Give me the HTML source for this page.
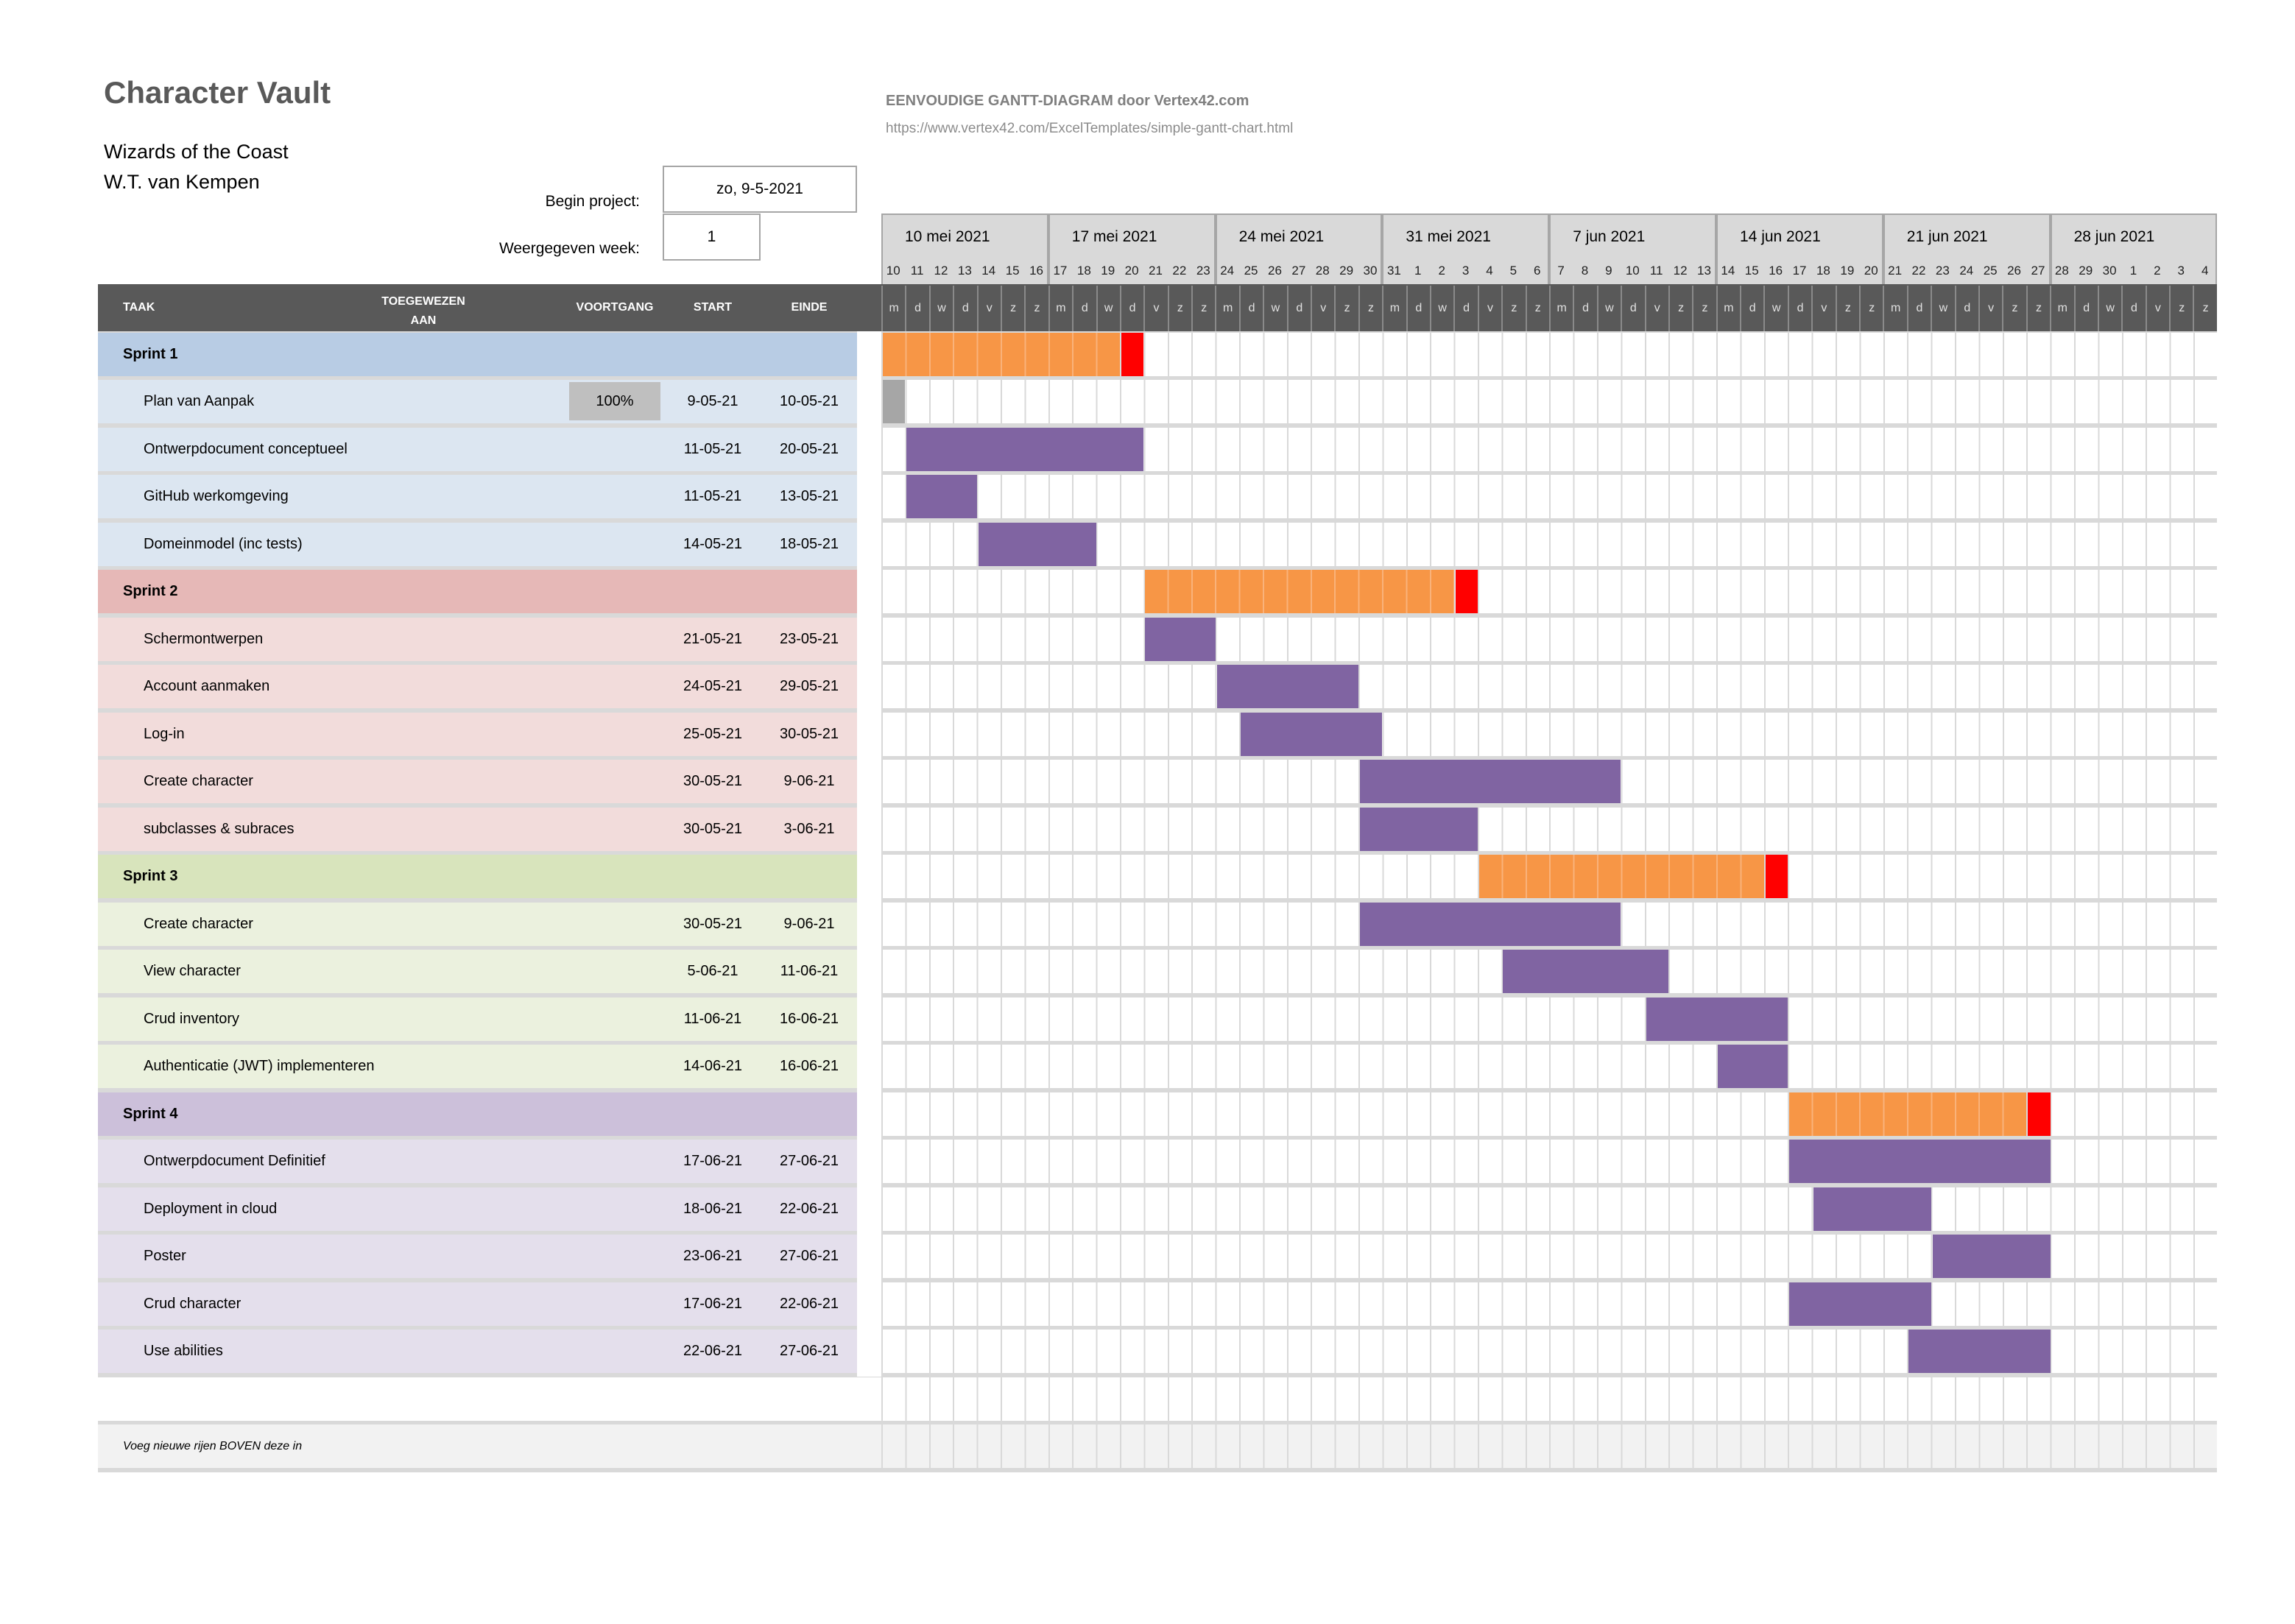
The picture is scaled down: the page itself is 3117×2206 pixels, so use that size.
<!DOCTYPE html>
<html><head><meta charset="utf-8"><style>
*{margin:0;padding:0;box-sizing:border-box}
body{width:3117px;height:2206px;background:#fff;position:relative;overflow:hidden;font-family:"Liberation Sans",sans-serif;color:#000}
.a{position:absolute}
.t{position:absolute;white-space:nowrap}
.row{position:absolute;left:133px;width:1031px;height:59px;top:calc(451.5px + var(--r)*64.5px)}
.row span{position:absolute;top:0;line-height:59px;font-size:20px;white-space:nowrap}
.cg{position:absolute;left:1197px;width:1814px;height:59px;top:calc(451.5px + var(--r)*64.5px);background:repeating-linear-gradient(to right,#d9d9d9 0 2px,#fff 2px 32.4px)}
.bar{position:absolute;height:59px;top:calc(451.5px + var(--r)*64.5px);left:calc(1199px + var(--s)*32.4px);width:calc(var(--n)*32.4px - 2px);background:#8064a2}
.or{background:repeating-linear-gradient(to right,#f79646 0 30.4px,#f9b27a 30.4px 32.4px)}
.red{background:#ff0000}
.gr{background:#a6a6a6}
.mon{position:absolute;top:290px;height:98px;width:226.8px;background:#d9d9d9;border:2px solid #a6a6a6;border-bottom:none;font-size:21px}
.mon b{font-weight:normal;position:absolute;left:30px;top:18px}
.days{position:absolute;left:1197px;top:358px;width:1814px;display:flex;font-size:17px;color:#222}
.days span{width:32.4px;text-align:center}
.ltr{position:absolute;left:1197px;top:388px;width:1814px;height:62px;display:flex;font-size:16px;color:#e0e0e0}
.ltr span{width:32.4px;text-align:center;line-height:62px;border-left:2px solid #8a8a8a}
.h{position:absolute;color:#fff;font-weight:bold;font-size:16px;text-align:center;white-space:nowrap}
</style></head><body>

<div class="t" style="left:141px;top:102px;font-size:42px;font-weight:bold;color:#595959">Character Vault</div>
<div class="t" style="left:141px;top:191px;font-size:27px">Wizards of the Coast</div>
<div class="t" style="left:141px;top:232px;font-size:27px">W.T. van Kempen</div>
<div class="t" style="left:1203px;top:126px;font-size:20px;font-weight:bold;color:#7f7f7f">EENVOUDIGE GANTT-DIAGRAM door Vertex42.com</div>
<div class="t" style="left:1203px;top:164px;font-size:19px;color:#8c8c8c">https://www.vertex42.com/ExcelTemplates/simple-gantt-chart.html</div>
<div class="t" style="right:2248px;top:262px;font-size:21px">Begin project:</div>
<div class="t" style="right:2248px;top:326px;font-size:21px">Weergegeven week:</div>
<div class="a" style="left:900px;top:225px;width:264px;height:64px;border:2px solid #a6a6a6;font-size:21px;text-align:center;line-height:60px">zo, 9-5-2021</div>
<div class="a" style="left:900px;top:290px;width:133px;height:64px;border:2px solid #a6a6a6;font-size:21px;text-align:center;line-height:60px">1</div>

<div class="mon" style="left:1197px"><b>10 mei 2021</b></div>
<div class="mon" style="left:1423.8px"><b>17 mei 2021</b></div>
<div class="mon" style="left:1650.6px"><b>24 mei 2021</b></div>
<div class="mon" style="left:1877.4px"><b>31 mei 2021</b></div>
<div class="mon" style="left:2104.2px"><b>7 jun 2021</b></div>
<div class="mon" style="left:2331px"><b>14 jun 2021</b></div>
<div class="mon" style="left:2557.8px"><b>21 jun 2021</b></div>
<div class="mon" style="left:2784.6px"><b>28 jun 2021</b></div>
<div class="days"><span>10</span><span>11</span><span>12</span><span>13</span><span>14</span><span>15</span><span>16</span><span>17</span><span>18</span><span>19</span><span>20</span><span>21</span><span>22</span><span>23</span><span>24</span><span>25</span><span>26</span><span>27</span><span>28</span><span>29</span><span>30</span><span>31</span><span>1</span><span>2</span><span>3</span><span>4</span><span>5</span><span>6</span><span>7</span><span>8</span><span>9</span><span>10</span><span>11</span><span>12</span><span>13</span><span>14</span><span>15</span><span>16</span><span>17</span><span>18</span><span>19</span><span>20</span><span>21</span><span>22</span><span>23</span><span>24</span><span>25</span><span>26</span><span>27</span><span>28</span><span>29</span><span>30</span><span>1</span><span>2</span><span>3</span><span>4</span></div>

<div class="a" style="left:133px;top:386px;width:2878px;height:64px;background:#595959"></div>
<div class="ltr"><span>m</span><span>d</span><span>w</span><span>d</span><span>v</span><span>z</span><span>z</span><span>m</span><span>d</span><span>w</span><span>d</span><span>v</span><span>z</span><span>z</span><span>m</span><span>d</span><span>w</span><span>d</span><span>v</span><span>z</span><span>z</span><span>m</span><span>d</span><span>w</span><span>d</span><span>v</span><span>z</span><span>z</span><span>m</span><span>d</span><span>w</span><span>d</span><span>v</span><span>z</span><span>z</span><span>m</span><span>d</span><span>w</span><span>d</span><span>v</span><span>z</span><span>z</span><span>m</span><span>d</span><span>w</span><span>d</span><span>v</span><span>z</span><span>z</span><span>m</span><span>d</span><span>w</span><span>d</span><span>v</span><span>z</span><span>z</span></div>
<div class="h" style="left:167px;top:409px">TAAK</div>
<div class="h" style="left:475px;top:397px;width:200px;line-height:26px">TOEGEWEZEN<br>AAN</div>
<div class="h" style="left:735px;top:409px;width:200px">VOORTGANG</div>
<div class="h" style="left:918px;top:409px;width:100px">START</div>
<div class="h" style="left:1049px;top:409px;width:100px">EINDE</div>

<div class="a" style="left:133px;top:450px;width:2878px;height:1550px;background:#d9d9d9"></div>
<div class="a" style="left:1164px;top:450px;width:33px;height:1420px;background:#fff"></div>

<!-- chart rows -->
<div class="cg" style="--r:0"></div><div class="cg" style="--r:1"></div><div class="cg" style="--r:2"></div><div class="cg" style="--r:3"></div><div class="cg" style="--r:4"></div><div class="cg" style="--r:5"></div><div class="cg" style="--r:6"></div><div class="cg" style="--r:7"></div><div class="cg" style="--r:8"></div><div class="cg" style="--r:9"></div><div class="cg" style="--r:10"></div><div class="cg" style="--r:11"></div><div class="cg" style="--r:12"></div><div class="cg" style="--r:13"></div><div class="cg" style="--r:14"></div><div class="cg" style="--r:15"></div><div class="cg" style="--r:16"></div><div class="cg" style="--r:17"></div><div class="cg" style="--r:18"></div><div class="cg" style="--r:19"></div><div class="cg" style="--r:20"></div><div class="cg" style="--r:21"></div><div class="cg" style="--r:22"></div>
<div class="cg" style="--r:23;background:repeating-linear-gradient(to right,#d9d9d9 0 2px,#f2f2f2 2px 32.4px)"></div>

<!-- left rows -->
<div class="row" style="--r:0;background:#b8cce4"><span style="left:34px;font-weight:bold">Sprint 1</span></div>
<div class="row" style="--r:1;background:#dce6f1"><div class="a" style="left:640px;top:3px;width:124px;height:52px;background:#bfbfbf"></div><span style="left:62px">Plan van Aanpak</span><span style="left:640px;width:124px;text-align:center">100%</span><span style="left:785px;width:100px;text-align:center">9-05-21</span><span style="left:916px;width:100px;text-align:center">10-05-21</span></div>
<div class="row" style="--r:2;background:#dce6f1"><span style="left:62px">Ontwerpdocument conceptueel</span><span style="left:785px;width:100px;text-align:center">11-05-21</span><span style="left:916px;width:100px;text-align:center">20-05-21</span></div>
<div class="row" style="--r:3;background:#dce6f1"><span style="left:62px">GitHub werkomgeving</span><span style="left:785px;width:100px;text-align:center">11-05-21</span><span style="left:916px;width:100px;text-align:center">13-05-21</span></div>
<div class="row" style="--r:4;background:#dce6f1"><span style="left:62px">Domeinmodel (inc tests)</span><span style="left:785px;width:100px;text-align:center">14-05-21</span><span style="left:916px;width:100px;text-align:center">18-05-21</span></div>
<div class="row" style="--r:5;background:#e6b8b7"><span style="left:34px;font-weight:bold">Sprint 2</span></div>
<div class="row" style="--r:6;background:#f2dcdb"><span style="left:62px">Schermontwerpen</span><span style="left:785px;width:100px;text-align:center">21-05-21</span><span style="left:916px;width:100px;text-align:center">23-05-21</span></div>
<div class="row" style="--r:7;background:#f2dcdb"><span style="left:62px">Account aanmaken</span><span style="left:785px;width:100px;text-align:center">24-05-21</span><span style="left:916px;width:100px;text-align:center">29-05-21</span></div>
<div class="row" style="--r:8;background:#f2dcdb"><span style="left:62px">Log-in</span><span style="left:785px;width:100px;text-align:center">25-05-21</span><span style="left:916px;width:100px;text-align:center">30-05-21</span></div>
<div class="row" style="--r:9;background:#f2dcdb"><span style="left:62px">Create character</span><span style="left:785px;width:100px;text-align:center">30-05-21</span><span style="left:916px;width:100px;text-align:center">9-06-21</span></div>
<div class="row" style="--r:10;background:#f2dcdb"><span style="left:62px">subclasses &amp; subraces</span><span style="left:785px;width:100px;text-align:center">30-05-21</span><span style="left:916px;width:100px;text-align:center">3-06-21</span></div>
<div class="row" style="--r:11;background:#d8e4bc"><span style="left:34px;font-weight:bold">Sprint 3</span></div>
<div class="row" style="--r:12;background:#ebf1de"><span style="left:62px">Create character</span><span style="left:785px;width:100px;text-align:center">30-05-21</span><span style="left:916px;width:100px;text-align:center">9-06-21</span></div>
<div class="row" style="--r:13;background:#ebf1de"><span style="left:62px">View character</span><span style="left:785px;width:100px;text-align:center">5-06-21</span><span style="left:916px;width:100px;text-align:center">11-06-21</span></div>
<div class="row" style="--r:14;background:#ebf1de"><span style="left:62px">Crud inventory</span><span style="left:785px;width:100px;text-align:center">11-06-21</span><span style="left:916px;width:100px;text-align:center">16-06-21</span></div>
<div class="row" style="--r:15;background:#ebf1de"><span style="left:62px">Authenticatie (JWT) implementeren</span><span style="left:785px;width:100px;text-align:center">14-06-21</span><span style="left:916px;width:100px;text-align:center">16-06-21</span></div>
<div class="row" style="--r:16;background:#ccc0da"><span style="left:34px;font-weight:bold">Sprint 4</span></div>
<div class="row" style="--r:17;background:#e4dfec"><span style="left:62px">Ontwerpdocument Definitief</span><span style="left:785px;width:100px;text-align:center">17-06-21</span><span style="left:916px;width:100px;text-align:center">27-06-21</span></div>
<div class="row" style="--r:18;background:#e4dfec"><span style="left:62px">Deployment in cloud</span><span style="left:785px;width:100px;text-align:center">18-06-21</span><span style="left:916px;width:100px;text-align:center">22-06-21</span></div>
<div class="row" style="--r:19;background:#e4dfec"><span style="left:62px">Poster</span><span style="left:785px;width:100px;text-align:center">23-06-21</span><span style="left:916px;width:100px;text-align:center">27-06-21</span></div>
<div class="row" style="--r:20;background:#e4dfec"><span style="left:62px">Crud character</span><span style="left:785px;width:100px;text-align:center">17-06-21</span><span style="left:916px;width:100px;text-align:center">22-06-21</span></div>
<div class="row" style="--r:21;background:#e4dfec"><span style="left:62px">Use abilities</span><span style="left:785px;width:100px;text-align:center">22-06-21</span><span style="left:916px;width:100px;text-align:center">27-06-21</span></div>
<div class="row" style="--r:22;background:#fff;width:1064px"></div>
<div class="row" style="--r:23;background:#f2f2f2;width:1064px"><span style="left:34px;font-size:16px;font-style:italic">Voeg nieuwe rijen BOVEN deze in</span></div>

<!-- bars -->
<div class="bar or" style="--r:0;--s:0;--n:10"></div><div class="bar red" style="--r:0;--s:10;--n:1"></div>
<div class="bar gr" style="--r:1;--s:0;--n:1"></div>
<div class="bar" style="--r:2;--s:1;--n:10"></div>
<div class="bar" style="--r:3;--s:1;--n:3"></div>
<div class="bar" style="--r:4;--s:4;--n:5"></div>
<div class="bar or" style="--r:5;--s:11;--n:13"></div><div class="bar red" style="--r:5;--s:24;--n:1"></div>
<div class="bar" style="--r:6;--s:11;--n:3"></div>
<div class="bar" style="--r:7;--s:14;--n:6"></div>
<div class="bar" style="--r:8;--s:15;--n:6"></div>
<div class="bar" style="--r:9;--s:20;--n:11"></div>
<div class="bar" style="--r:10;--s:20;--n:5"></div>
<div class="bar or" style="--r:11;--s:25;--n:12"></div><div class="bar red" style="--r:11;--s:37;--n:1"></div>
<div class="bar" style="--r:12;--s:20;--n:11"></div>
<div class="bar" style="--r:13;--s:26;--n:7"></div>
<div class="bar" style="--r:14;--s:32;--n:6"></div>
<div class="bar" style="--r:15;--s:35;--n:3"></div>
<div class="bar or" style="--r:16;--s:38;--n:10"></div><div class="bar red" style="--r:16;--s:48;--n:1"></div>
<div class="bar" style="--r:17;--s:38;--n:11"></div>
<div class="bar" style="--r:18;--s:39;--n:5"></div>
<div class="bar" style="--r:19;--s:44;--n:5"></div>
<div class="bar" style="--r:20;--s:38;--n:6"></div>
<div class="bar" style="--r:21;--s:43;--n:6"></div>
</body></html>
